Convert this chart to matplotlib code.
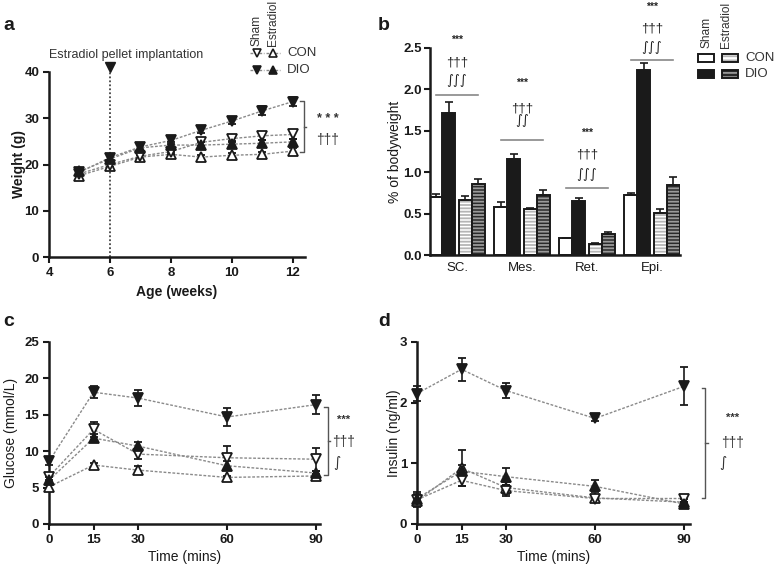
import numpy as np
import matplotlib
matplotlib.use('Agg')
import matplotlib.pyplot as plt
from matplotlib.patches import Rectangle
from matplotlib.lines import Line2D

plt.rcParams['font.family'] = ['Liberation Sans', 'DejaVu Sans']
plt.rcParams['hatch.linewidth'] = 1.3

W, H = 774, 568
INK = '#1a1a1a'
LINEGRAY = '#8a8a8a'

# ---- panel a: body weight ----
weeks = [5, 6, 7, 8, 9, 10, 11, 12]
wt_sham_con = [18.0, 20.0, 21.8, 22.8, 24.8, 25.6, 26.2, 26.5]
wt_e2_con = [17.6, 19.6, 21.6, 22.2, 21.6, 22.0, 22.2, 22.9]
wt_sham_dio = [18.3, 21.5, 23.8, 25.2, 27.4, 29.4, 31.6, 33.6]
wt_e2_dio = [18.5, 21.2, 23.6, 24.2, 24.2, 24.4, 24.6, 24.9]
wt_sham_con_err = [0.5, 0.5, 0.6, 0.6, 0.7, 0.8, 0.9, 0.9]
wt_e2_con_err = [0.5, 0.5, 0.5, 0.6, 0.5, 0.5, 0.5, 0.6]
wt_sham_dio_err = [0.6, 0.6, 0.6, 0.7, 0.6, 0.6, 1.0, 0.9]
wt_e2_dio_err = [0.6, 0.6, 0.6, 0.6, 0.6, 0.6, 0.7, 0.7]

# ---- panel b: fat depots ----
depots = ['SC.', 'Mes.', 'Ret.', 'Epi.']
fat_sham_con = [0.70, 0.58, 0.20, 0.72]
fat_sham_dio = [1.72, 1.16, 0.65, 2.24]
fat_e2_con = [0.67, 0.55, 0.13, 0.51]
fat_e2_dio = [0.86, 0.73, 0.25, 0.85]
fat_sham_con_err = [0.04, 0.06, 0.01, 0.03]
fat_sham_dio_err = [0.13, 0.06, 0.04, 0.08]
fat_e2_con_err = [0.04, 0.02, 0.01, 0.04]
fat_e2_dio_err = [0.06, 0.05, 0.03, 0.09]
sig_line = [1.93, 1.39, 0.81, 2.36]
sig_labels = [['***', '†††', '∫∫∫'], ['***', '†††', '∫∫'],
              ['***', '†††', '∫∫∫'], ['***', '†††', '∫∫∫']]
sig_y = [[2.60, 2.32, 2.11], [2.08, 1.77, 1.62],
         [1.47, 1.21, 0.97], [3.00, 2.74, 2.51]]

# ---- panels c, d: GTT ----
times = [0, 15, 30, 60, 90]
glu_sham_dio = [8.6, 18.1, 17.3, 14.7, 16.4]
glu_sham_con = [6.5, 13.0, 9.6, 9.1, 8.9]
glu_e2_dio = [6.0, 11.8, 10.7, 8.0, 7.0]
glu_e2_con = [5.1, 8.1, 7.4, 6.4, 6.6]
glu_sham_dio_err = [0.5, 0.8, 1.1, 1.2, 1.3]
glu_sham_con_err = [0.5, 1.0, 0.7, 1.6, 1.6]
glu_e2_dio_err = [0.5, 0.6, 0.6, 0.6, 0.3]
glu_e2_con_err = [0.3, 0.3, 0.6, 0.2, 0.3]

ins_sham_dio = [2.15, 2.55, 2.20, 1.74, 2.27]
ins_sham_con = [0.40, 0.72, 0.55, 0.42, 0.42]
ins_e2_dio = [0.42, 0.87, 0.78, 0.62, 0.33]
ins_e2_con = [0.38, 0.92, 0.60, 0.43, 0.36]
ins_sham_dio_err = [0.12, 0.19, 0.13, 0.05, 0.31]
ins_sham_con_err = [0.10, 0.10, 0.09, 0.05, 0.06]
ins_e2_dio_err = [0.10, 0.10, 0.14, 0.10, 0.03]
ins_e2_con_err = [0.10, 0.30, 0.10, 0.05, 0.05]

styles = {
    'sham_con': dict(marker='v', mfc='white'),
    'e2_con': dict(marker='^', mfc='white'),
    'sham_dio': dict(marker='v', mfc=INK),
    'e2_dio': dict(marker='^', mfc=INK),
}

fig = plt.figure(figsize=(W / 100, H / 100), dpi=100)


def add_ax(l, t, r, b):
    return fig.add_axes([l / W, 1 - b / H, (r - l) / W, (b - t) / H])


def style_ax(ax, bold_x=True, bold_y=True):
    for s in ['top', 'right']:
        ax.spines[s].set_visible(False)
    for s in ['left', 'bottom']:
        ax.spines[s].set_linewidth(1.8)
        ax.spines[s].set_color(INK)
    ax.tick_params(length=4, width=1.5, color=INK, labelsize=9.5, pad=3)
    for lab in ax.get_xticklabels():
        lab.set_fontweight('bold' if bold_x else 'normal')
        lab.set_color(INK)
    for lab in ax.get_yticklabels():
        lab.set_fontweight('bold' if bold_y else 'normal')
        lab.set_color(INK)


def series(ax, x, y, err, key, ms=7):
    ax.plot(x, y, color=LINEGRAY, lw=1.0, ls=(0, (2, 1.2)), zorder=2)
    ax.errorbar(x, y, yerr=err, ls='none', color=INK, ecolor=INK,
                elinewidth=1.2, capsize=3, capthick=1.2, ms=ms,
                mec=INK, mew=1.3, zorder=3, clip_on=False, **styles[key])


def bracket(ax, x, y0, y1, dx, dtick):
    ax.plot([x - dx, x, x, x - dx], [y0, y0, y1, y1], color='#555555',
            lw=1.0, clip_on=False)
    ym = (y0 + y1) / 2
    ax.plot([x, x + dtick], [ym, ym], color='#555555', lw=1.0, clip_on=False)


def sig_font(lab):
    if lab.startswith('∫'):
        return ['DejaVu Sans']
    return ['Liberation Sans', 'DejaVu Sans']


# ================= panel a =================
axa = add_ax(49, 72, 305, 257)
series(axa, weeks, wt_e2_con, wt_e2_con_err, 'e2_con')
series(axa, weeks, wt_sham_con, wt_sham_con_err, 'sham_con')
series(axa, weeks, wt_e2_dio, wt_e2_dio_err, 'e2_dio')
series(axa, weeks, wt_sham_dio, wt_sham_dio_err, 'sham_dio')
axa.axvline(6, color='#444444', lw=1.3, ls=(0, (1, 1.2)), zorder=1)
axa.plot([6], [41], marker='v', color=INK, ms=7, clip_on=False)
axa.text(6.52, 43.7, 'Estradiol pellet implantation', ha='center',
         va='center', fontsize=9, color='#333333')
axa.set_xlim(4, 12.4)
axa.set_ylim(0, 40)
axa.set_xticks([4, 6, 8, 10, 12])
axa.set_yticks([0, 10, 20, 30, 40])
axa.set_ylabel('Weight (g)', fontsize=10, fontweight='bold', color=INK)
axa.set_xlabel('Age (weeks)', fontsize=10, fontweight='bold', color=INK)
axa.yaxis.set_label_coords((26 - 49) / 256, 0.5)
axa.xaxis.set_label_coords(0.5, -(285 - 257) / 185)
style_ax(axa)
bracket(axa, 12.36, 22.6, 33.7, 0.12, 0.08)
axa.text(13.15, 29.8, '* * *', ha='center', va='center', fontsize=9,
         fontweight='bold', color='#333333')
axa.text(13.15, 25.3, '†††', ha='center', va='center', fontsize=10,
         color='#333333')

# ================= panel b =================
axb = add_ax(430, 48, 680, 255)
xg = np.arange(len(depots))
bw = 0.2
gap = 0.06
off = [-1.5 * bw - gap / 2, -0.5 * bw - gap / 2, 0.5 * bw + gap / 2,
       1.5 * bw + gap / 2]
ekw = dict(elinewidth=1.2, capsize=3, capthick=1.2, ecolor=INK)
axb.bar(xg + off[0], fat_sham_con, bw, color='white', edgecolor=INK,
        lw=1.4, yerr=[np.zeros(4), fat_sham_con_err], error_kw=ekw)
axb.bar(xg + off[1], fat_sham_dio, bw, color=INK, edgecolor=INK,
        lw=1.4, yerr=[np.zeros(4), fat_sham_dio_err], error_kw=ekw)
axb.bar(xg + off[2], fat_e2_con, bw, color='white', edgecolor='#b5b5b5',
        hatch='-----', lw=0)
axb.bar(xg + off[2], fat_e2_con, bw, color='none', edgecolor=INK,
        lw=1.4, yerr=[np.zeros(4), fat_e2_con_err], error_kw=ekw)
axb.bar(xg + off[3], fat_e2_dio, bw, color='#2a2a2a', edgecolor='#9a9a9a',
        hatch='-----', lw=0)
axb.bar(xg + off[3], fat_e2_dio, bw, color='none', edgecolor=INK,
        lw=1.4, yerr=[np.zeros(4), fat_e2_dio_err], error_kw=ekw)
for i in range(len(depots)):
    axb.plot([i - 0.33, i + 0.33], [sig_line[i], sig_line[i]],
             color='#888888', lw=1.2, clip_on=False)
    for lab, yy in zip(sig_labels[i], sig_y[i]):
        fs = 7.5 if lab == '***' else 9.5
        axb.text(i, yy, lab, ha='center', va='center', fontsize=fs,
                 fontweight='bold' if lab == '***' else 'normal',
                 family=sig_font(lab), color='#222222', clip_on=False)
axb.set_xlim(-0.415, 3.43)
axb.set_ylim(0, 2.5)
axb.set_xticks(xg)
axb.set_xticklabels(depots)
axb.set_yticks([0, 0.5, 1.0, 1.5, 2.0, 2.5])
axb.set_yticklabels(['0.0', '0.5', '1.0', '1.5', '2.0', '2.5'])
axb.set_ylabel('% of bodyweight', fontsize=10, color=INK)
axb.yaxis.set_label_coords((402 - 430) / 250, 0.5)
style_ax(axb, bold_x=False, bold_y=True)
axb.tick_params(axis='y', pad=2)
axb.tick_params(axis='x', length=0, pad=5)

# ================= panel c =================
axc = add_ax(49, 342, 320, 524)
series(axc, times, glu_e2_con, glu_e2_con_err, 'e2_con')
series(axc, times, glu_sham_con, glu_sham_con_err, 'sham_con')
series(axc, times, glu_e2_dio, glu_e2_dio_err, 'e2_dio')
series(axc, times, glu_sham_dio, glu_sham_dio_err, 'sham_dio')
axc.set_xlim(0, 91.3)
axc.set_ylim(0, 25)
axc.set_xticks(times)
axc.set_yticks([0, 5, 10, 15, 20, 25])
axc.set_ylabel('Glucose (mmol/L)', fontsize=10, color=INK)
axc.set_xlabel('Time (mins)', fontsize=10, color=INK)
axc.yaxis.set_label_coords((18 - 49) / 271, 0.5)
axc.xaxis.set_label_coords(0.5, -(550 - 524) / 182)
style_ax(axc)
bracket(axc, 94.0, 6.7, 16.1, 1.2, 0.8)
axc.text(99.1, 14.3, '***', ha='center', va='center', fontsize=8,
         fontweight='bold', color='#333333', clip_on=False)
axc.text(99.1, 11.3, '†††', ha='center', va='center', fontsize=10,
         color='#333333', clip_on=False)
axc.text(97.0, 8.4, '∫', ha='center', va='center', fontsize=10,
         family=['DejaVu Sans'], color='#333333', clip_on=False)

# ================= panel d =================
axd = add_ax(417, 342, 690, 524)
series(axd, times, ins_e2_con, ins_e2_con_err, 'e2_con')
series(axd, times, ins_sham_con, ins_sham_con_err, 'sham_con')
series(axd, times, ins_e2_dio, ins_e2_dio_err, 'e2_dio')
series(axd, times, ins_sham_dio, ins_sham_dio_err, 'sham_dio')
axd.set_xlim(0, 92)
axd.set_ylim(0, 3)
axd.set_xticks(times)
axd.set_yticks([0, 1, 2, 3])
axd.set_ylabel('Insulin (ng/ml)', fontsize=10, color=INK)
axd.set_xlabel('Time (mins)', fontsize=10, color=INK)
axd.yaxis.set_label_coords((401 - 417) / 273, 0.5)
axd.xaxis.set_label_coords(0.5, -(550 - 524) / 182)
style_ax(axd)
bracket(axd, 97.1, 0.43, 2.24, 1.2, 0.8)
axd.text(106.2, 1.75, '***', ha='center', va='center', fontsize=8,
         fontweight='bold', color='#333333', clip_on=False)
axd.text(106.2, 1.33, '†††', ha='center', va='center', fontsize=10,
         color='#333333', clip_on=False)
axd.text(103.0, 1.0, '∫', ha='center', va='center', fontsize=10,
         family=['DejaVu Sans'], color='#333333', clip_on=False)

# ================= panel letters =================
for lab, x, y in [('a', 3, 26), ('b', 378, 26), ('c', 3, 322), ('d', 378, 322)]:
    fig.text(x / W, 1 - y / H, lab, fontsize=14, fontweight='bold',
             va='center', ha='left', color=INK)


def fx(px):
    return px / W


def fy(py):
    return 1 - py / H


# ---- legend panel a ----
for txt, x in [('Sham', 256), ('Estradiol', 273)]:
    fig.text(fx(x), fy(46), txt, rotation=90, ha='center', va='bottom',
             fontsize=8.6, color='#333333')
for row_y, key_s, key_e, lab in [(53, 'sham_con', 'e2_con', 'CON'),
                                  (70, 'sham_dio', 'e2_dio', 'DIO')]:
    for cx, key in [(257, key_s), (273, key_e)]:
        fig.add_artist(Line2D([fx(cx - 7), fx(cx + 7)], [fy(row_y), fy(row_y)],
                              color=LINEGRAY, lw=1.0, ls=(0, (2, 1.2))))
        fig.add_artist(Line2D([fx(cx)], [fy(row_y)], ls='none', ms=5.5,
                              mec=INK, mew=1.2, **styles[key]))
    fig.text(fx(287), fy(row_y), lab, ha='left', va='center', fontsize=9.5,
             color='#333333')

# ---- legend panel b ----
for txt, x in [('Sham', 707), ('Estradiol', 726)]:
    fig.text(fx(x), fy(48), txt, rotation=90, ha='center', va='bottom',
             fontsize=8.6, color='#333333')
box_specs = [
    (698, 54, 'white', None, None, 'CON'),
    (722, 54, 'white', '#b5b5b5', '----', None),
    (698, 70, INK, None, None, 'DIO'),
    (722, 70, '#2a2a2a', '#9a9a9a', '----', None),
]
for x0, y0, fc, hc, hatch, lab in box_specs:
    if hatch:
        fig.add_artist(Rectangle((fx(x0), fy(y0 + 8)), 16 / W, 8 / H,
                                 facecolor=fc, edgecolor=hc, hatch=hatch,
                                 lw=0, transform=fig.transFigure))
    fig.add_artist(Rectangle((fx(x0), fy(y0 + 8)), 16 / W, 8 / H,
                             facecolor=fc if not hatch else 'none',
                             edgecolor=INK, lw=1.4,
                             transform=fig.transFigure))
    if lab:
        fig.text(fx(745), fy(y0 + 4), lab, ha='left', va='center',
                 fontsize=9.5, color='#333333')

fig.savefig('out.png', dpi=100)
